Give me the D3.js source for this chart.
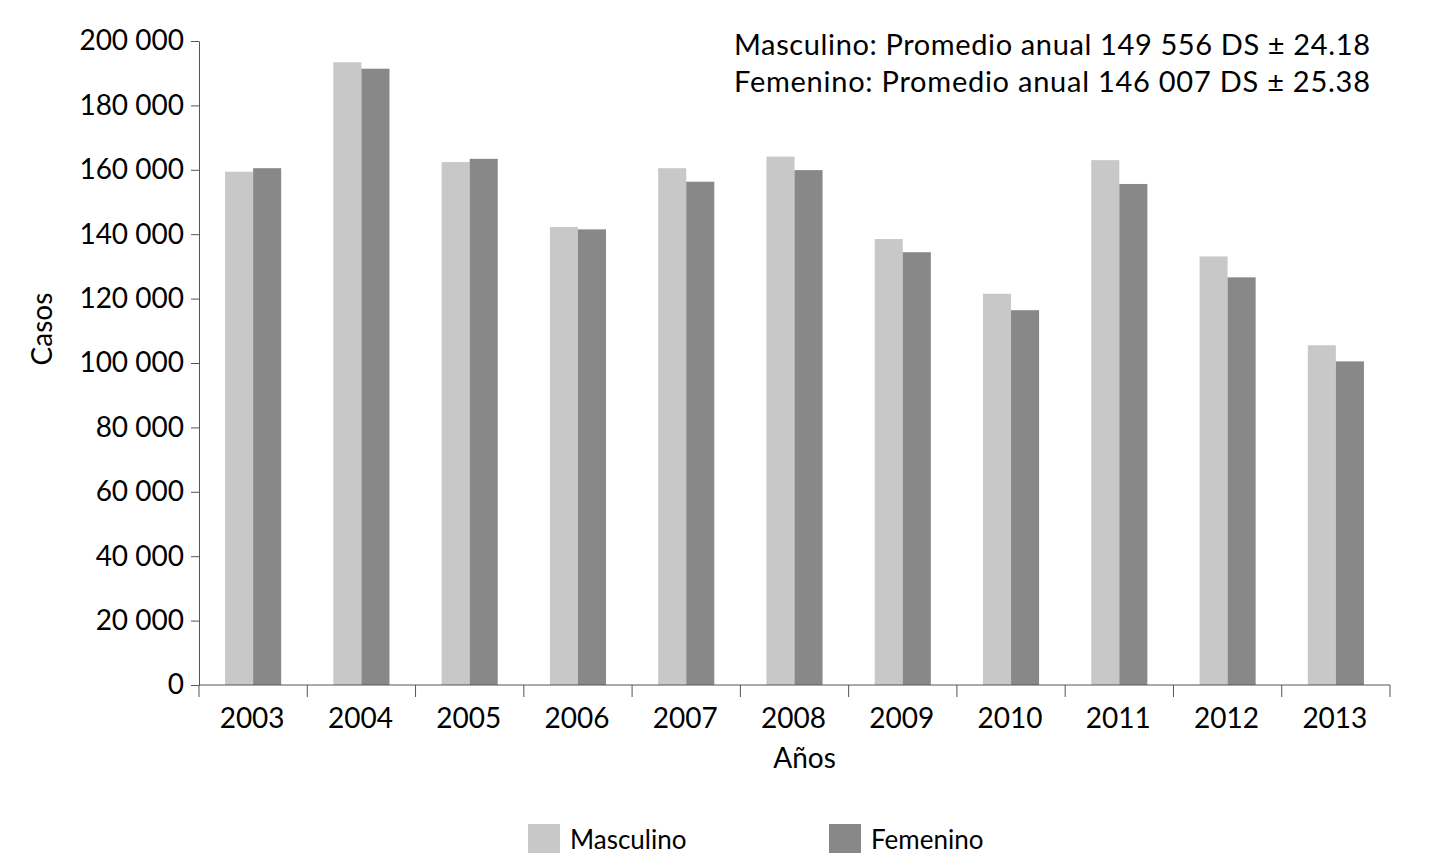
<!DOCTYPE html>
<html>
<head>
<meta charset="utf-8">
<script src="https://cdn.jsdelivr.net/npm/d3@7"></script>
<style>
  html, body { margin: 0; padding: 0; background: #fff; overflow: hidden; }
  svg { display: block; }
  svg text { font-family: Lato, "Open Sans", sans-serif; fill: #000; }
  .axis path, .axis line { stroke: #555; }
</style>
</head>
<body>
<svg></svg>
<script>
const width = 1430, height = 868;
const margin = { top: 41, right: 40, bottom: 183, left: 199 };
const innerWidth = width - margin.left - margin.right;
const innerHeight = height - margin.top - margin.bottom;

const years = ["2003", "2004", "2005", "2006", "2007", "2008", "2009", "2010", "2011", "2012", "2013"];
const series = ["Masculino", "Femenino"];
const masculino = [159400, 193400, 162400, 142200, 160500, 164100, 138500, 121500, 163000, 133100, 105500];
const femenino = [160500, 191400, 163400, 141500, 156300, 159900, 134400, 116400, 155600, 126600, 100500];
const colors = ["#c8c8c8", "#888888"];
const yTicks = [0, 20000, 40000, 60000, 80000, 100000, 120000, 140000, 160000, 180000, 200000];
const notes = [
    "Masculino: Promedio anual 149 556 DS ± 24.18",
    "Femenino: Promedio anual 146 007 DS ± 25.38"
];

const svg = d3.select("svg")
    .attr("width", width)
    .attr("height", height);

const g = svg.append("g")
    .attr("transform", `translate(${margin.left},${margin.top})`);

const x0 = d3.scaleBand().domain(years).range([0, innerWidth]).padding(0);
const x1 = d3.scaleBand().domain(series).range([0, x0.bandwidth()])
    .paddingInner(0).paddingOuter(0.93);
const y = d3.scaleLinear().domain([0, 200000]).range([innerHeight, 0]);
const color = d3.scaleOrdinal().domain(series).range(colors);

const fmt = d => d3.format(",")(d).replace(/,/g, " ");

// bars
const rows = years.map((yr, i) => ({ year: yr, values: [
    { key: "Masculino", value: masculino[i] },
    { key: "Femenino", value: femenino[i] }
] }));

g.selectAll(".group")
    .data(rows)
    .enter().append("g")
    .attr("class", "group")
    .attr("transform", d => `translate(${x0(d.year)},0)`)
    .selectAll("rect")
    .data(d => d.values)
    .enter().append("rect")
    .attr("x", d => x1(d.key))
    .attr("y", d => y(d.value))
    .attr("width", x1.bandwidth())
    .attr("height", d => innerHeight - y(d.value))
    .attr("fill", d => color(d.key));

// y axis
const yAxis = g.append("g")
    .attr("class", "axis")
    .call(d3.axisLeft(y).tickValues(yTicks).tickFormat(fmt).tickSize(8).tickSizeOuter(0));
yAxis.selectAll("text").attr("font-size", 28).attr("x", -15);

// x axis: ticks at band boundaries
const xAxis = g.append("g")
    .attr("class", "axis")
    .attr("transform", `translate(0,${innerHeight})`);
xAxis.append("line")
    .attr("x1", 0).attr("x2", innerWidth)
    .attr("y1", 0).attr("y2", 0);
xAxis.selectAll(".xt")
    .data(years.concat(["end"]))
    .enter().append("line")
    .attr("class", "xt")
    .attr("x1", (d, i) => i * x0.step())
    .attr("x2", (d, i) => i * x0.step())
    .attr("y1", 0).attr("y2", 12);
xAxis.selectAll(".xl")
    .data(years)
    .enter().append("text")
    .attr("class", "xl")
    .attr("x", d => x0(d) + x0.bandwidth() / 2 - 1)
    .attr("y", 43)
    .attr("text-anchor", "middle")
    .attr("font-size", 28)
    .text(d => d);

// axis titles
svg.append("text")
    .attr("transform", `translate(52,${margin.top + y(100000) - 34}) rotate(-90)`)
    .attr("text-anchor", "middle")
    .attr("font-size", 28)
    .text("Casos");

svg.append("text")
    .attr("x", margin.left + innerWidth / 2 + 10)
    .attr("y", 768)
    .attr("text-anchor", "middle")
    .attr("font-size", 28)
    .text("Años");

// notes
svg.selectAll(".note")
    .data(notes)
    .enter().append("text")
    .attr("class", "note")
    .attr("x", 1370)
    .attr("y", (d, i) => 55 + i * 37)
    .attr("text-anchor", "end")
    .attr("font-size", 29)
    .attr("textLength", 636)
    .attr("lengthAdjust", "spacing")
    .text(d => d);

// legend
const legendX = [528, 829];
const legend = svg.selectAll(".legend")
    .data(series)
    .enter().append("g")
    .attr("class", "legend")
    .attr("transform", (d, i) => `translate(${legendX[i]},824)`);
legend.append("rect")
    .attr("width", 32).attr("height", 29)
    .attr("fill", d => color(d));
legend.append("text")
    .attr("x", 42).attr("y", 25)
    .attr("font-size", 26)
    .text(d => d);
</script>
</body>
</html>
